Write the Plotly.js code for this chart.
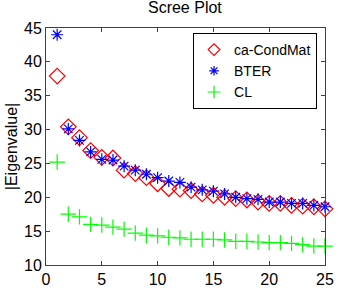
<!DOCTYPE html>
<html><head><meta charset="utf-8">
<script src="https://cdn.plot.ly/plotly-3.0.1.min.js"></script>
<style>html,body{margin:0;padding:0;background:#fff;}#chart{width:359px;height:299px;}</style>
</head><body><div id="chart"></div>
<script>
const idx = [1,2,3,4,5,6,7,8,9,10,11,12,13,14,15,16,17,18,19,20,21,22,23,24,25];
const condMat = [37.9,30.4,28.8,26.9,25.9,25.8,24.0,23.5,22.9,22.0,21.3,21.2,21.0,20.5,20.3,20.0,19.8,19.6,19.3,19.1,19.1,18.8,18.7,18.6,18.3];
const bter = [44.0,30.1,28.4,26.7,25.6,25.5,24.6,24.0,23.4,22.9,22.4,22.2,21.5,21.1,20.9,20.5,20.0,19.8,19.7,19.3,19.3,19.1,19.1,18.8,18.6];
const cl = [25.2,17.5,17.1,16.0,15.9,15.6,15.3,14.7,14.4,14.3,14.1,14.0,13.8,13.8,13.8,13.7,13.5,13.5,13.4,13.3,13.3,13.2,13.0,12.8,12.8];
const seriesNames = ['ca-CondMat','BTER','CL'];
const xTicks = [0,5,10,15,20,25];
const yTicks = [10,15,20,25,30,35,40,45];

const font = {family:'Liberation Sans, Arial, sans-serif', color:'#000'};
const styles = [
  {symbol:'diamond-open', size:12, color:'#ff0000'},
  {symbol:'asterisk-open', size:10, color:'#0000ff'},
  {symbol:'cross-thin-open', size:11, color:'#00ff00'}
];
const legendSizes = [9, 8, 9];
const data = [condMat, bter, cl];
const traces = [];
data.forEach((ys, i) => {
  traces.push({x:idx, y:ys, name:seriesNames[i], mode:'markers', type:'scatter', showlegend:false, cliponaxis:false,
    marker:{symbol:styles[i].symbol, size:styles[i].size, color:styles[i].color, line:{width:1.2, color:styles[i].color}}});
});
data.forEach((ys, i) => {
  traces.push({x:[null], y:[null], name:seriesNames[i], mode:'markers', type:'scatter', showlegend:true,
    marker:{symbol:styles[i].symbol, size:legendSizes[i], color:styles[i].color, line:{width:1.2, color:styles[i].color}}});
});
const axisCommon = {showgrid:false, zeroline:false, showline:true, mirror:'ticks', linecolor:'#404040', linewidth:1,
  ticks:'inside', ticklen:4, tickcolor:'#404040', tickfont:{...font, size:16}};
const layout = {
  width:359, height:299, paper_bgcolor:'#fff', plot_bgcolor:'#fff',
  margin:{l:46, r:34, t:28, b:34},
  title:{text:'Scree Plot', font:{...font, size:16}, x:0.515, xanchor:'center', y:0.995, yanchor:'top'},
  xaxis:{...axisCommon, range:[0,25], tickvals:xTicks, ticktext:xTicks.map(String)},
  yaxis:{...axisCommon, range:[10,45], tickvals:yTicks, ticktext:yTicks.map(String),
    title:{text:'|Eigenvalue|', font:{...font, size:16}, standoff:2}},
  showlegend:true,
  legend:{x:0.527, y:0.979, xanchor:'left', yanchor:'top', bgcolor:'#fff', bordercolor:'#000', borderwidth:1,
    font:{...font, size:14}, tracegroupgap:0, itemwidth:30}
};
Plotly.newPlot('chart', traces, layout, {displayModeBar:false, staticPlot:true});
</script></body></html>
